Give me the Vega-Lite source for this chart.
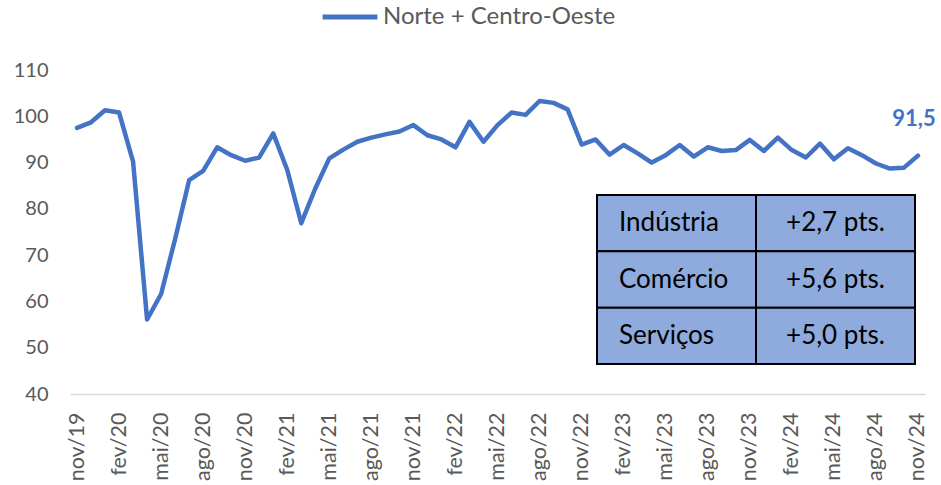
{
  "$schema": "https://vega.github.io/schema/vega-lite/v6.json",
  "width": 855,
  "height": 324,
  "autosize": {"type": "none"},
  "padding": {"left": 70, "top": 70, "right": 16, "bottom": 91},
  "background": "white",
  "config": {
    "view": {"stroke": null},
    "font": "Lato",
    "locale": {"number": {"decimal": ",", "thousands": ".", "grouping": [3], "currency": ["R$", ""]}}
  },
  "resolve": {"scale": {"x": "independent", "y": "independent"}},
  "layer": [
    {
      "data": {"values": [
        {"mes": "nov/19", "valor": 97.5}, {"mes": "dez/19", "valor": 98.7}, {"mes": "jan/20", "valor": 101.3},
        {"mes": "fev/20", "valor": 100.8}, {"mes": "mar/20", "valor": 90.2}, {"mes": "abr/20", "valor": 56.1},
        {"mes": "mai/20", "valor": 61.6}, {"mes": "jun/20", "valor": 73.5}, {"mes": "jul/20", "valor": 86.2},
        {"mes": "ago/20", "valor": 88.2}, {"mes": "set/20", "valor": 93.3}, {"mes": "out/20", "valor": 91.6},
        {"mes": "nov/20", "valor": 90.4}, {"mes": "dez/20", "valor": 91.1}, {"mes": "jan/21", "valor": 96.3},
        {"mes": "fev/21", "valor": 88.4}, {"mes": "mar/21", "valor": 76.9}, {"mes": "abr/21", "valor": 84.4},
        {"mes": "mai/21", "valor": 90.9}, {"mes": "jun/21", "valor": 92.8}, {"mes": "jul/21", "valor": 94.5},
        {"mes": "ago/21", "valor": 95.4}, {"mes": "set/21", "valor": 96.1}, {"mes": "out/21", "valor": 96.7},
        {"mes": "nov/21", "valor": 98.1}, {"mes": "dez/21", "valor": 95.9}, {"mes": "jan/22", "valor": 95.0},
        {"mes": "fev/22", "valor": 93.3}, {"mes": "mar/22", "valor": 98.8}, {"mes": "abr/22", "valor": 94.5},
        {"mes": "mai/22", "valor": 98.1}, {"mes": "jun/22", "valor": 100.8}, {"mes": "jul/22", "valor": 100.3},
        {"mes": "ago/22", "valor": 103.3}, {"mes": "set/22", "valor": 102.9}, {"mes": "out/22", "valor": 101.5},
        {"mes": "nov/22", "valor": 93.9}, {"mes": "dez/22", "valor": 95.0}, {"mes": "jan/23", "valor": 91.7},
        {"mes": "fev/23", "valor": 93.8}, {"mes": "mar/23", "valor": 92.0}, {"mes": "abr/23", "valor": 90.0},
        {"mes": "mai/23", "valor": 91.6}, {"mes": "jun/23", "valor": 93.8}, {"mes": "jul/23", "valor": 91.3},
        {"mes": "ago/23", "valor": 93.3}, {"mes": "set/23", "valor": 92.5}, {"mes": "out/23", "valor": 92.7},
        {"mes": "nov/23", "valor": 94.9}, {"mes": "dez/23", "valor": 92.5}, {"mes": "jan/24", "valor": 95.4},
        {"mes": "fev/24", "valor": 92.7}, {"mes": "mar/24", "valor": 91.1}, {"mes": "abr/24", "valor": 94.1},
        {"mes": "mai/24", "valor": 90.7}, {"mes": "jun/24", "valor": 93.1}, {"mes": "jul/24", "valor": 91.6},
        {"mes": "ago/24", "valor": 89.8}, {"mes": "set/24", "valor": 88.7}, {"mes": "out/24", "valor": 88.9},
        {"mes": "nov/24", "valor": 91.5}
      ]},
      "encoding": {
        "x": {
          "field": "mes", "type": "ordinal", "sort": null,
          "scale": {"type": "point", "padding": 0.5},
          "axis": {
            "title": null,
            "values": ["nov/19","fev/20","mai/20","ago/20","nov/20","fev/21","mai/21","ago/21","nov/21","fev/22","mai/22","ago/22","nov/22","fev/23","mai/23","ago/23","nov/23","fev/24","mai/24","ago/24","nov/24"],
            "labelAngle": -90, "labelAlign": "right", "labelBaseline": "middle",
            "labelPadding": 18, "labelFontSize": 21.5, "labelColor": "#595959", "labelFont": "Lato",
            "ticks": false, "domainColor": "#D9D9D9", "domainWidth": 1.5, "grid": false
          }
        },
        "y": {
          "field": "valor", "type": "quantitative",
          "scale": {"domain": [40, 110], "nice": false, "zero": false},
          "axis": {
            "title": null, "values": [40, 50, 60, 70, 80, 90, 100, 110],
            "domain": false, "ticks": false, "grid": false,
            "labelPadding": 22, "labelFontSize": 20, "labelColor": "#595959", "labelFont": "Lato"
          }
        }
      },
      "layer": [
        {
          "mark": {"type": "line", "strokeWidth": 4.5, "strokeJoin": "round", "strokeCap": "round"},
          "encoding": {
            "color": {
              "datum": "Norte + Centro-Oeste",
              "scale": {"range": ["#4472C4"]},
              "legend": {
                "title": null, "orient": "none", "legendX": 250, "legendY": -83,
                "symbolType": "stroke", "symbolSize": 3000, "symbolStrokeWidth": 5,
                "labelFontSize": 24, "labelColor": "#595959", "labelFont": "Lato", "labelOffset": 3, "labelLimit": 500
              }
            }
          }
        },
        {
          "transform": [{"filter": "datum.mes == 'nov/24'"}],
          "mark": {"type": "text", "dy": -37, "dx": -4, "fontSize": 22, "fontWeight": "bold", "color": "#4472C4", "font": "Lato"},
          "encoding": {"text": {"field": "valor", "type": "quantitative", "format": ".1f"}}
        }
      ]
    },
    {
      "data": {"values": [
        {"setor": "Indústria", "variacao": "+2,7 pts."},
        {"setor": "Comércio", "variacao": "+5,6 pts."},
        {"setor": "Serviços", "variacao": "+5,0 pts."}
      ]},
      "transform": [{"fold": ["setor", "variacao"], "as": ["coluna", "texto"]}],
      "encoding": {
        "x": {"field": "coluna", "type": "nominal", "axis": null,
              "scale": {"type": "band", "domain": ["setor", "variacao"], "range": [527, 845], "paddingInner": 0, "paddingOuter": 0}},
        "y": {"field": "setor", "type": "nominal", "axis": null,
              "scale": {"type": "band", "domain": ["Indústria", "Comércio", "Serviços"], "range": [125, 294], "paddingInner": 0, "paddingOuter": 0}}
      },
      "layer": [
        {"mark": {"type": "rect", "fill": "#8FAADC", "stroke": "#000000", "strokeWidth": 2}},
        {
          "transform": [{"filter": "datum.coluna == 'setor'"}],
          "mark": {"type": "text", "align": "left", "baseline": "middle", "dx": -57.5, "fontSize": 26, "color": "#000000", "font": "Lato"},
          "encoding": {"text": {"field": "texto"}}
        },
        {
          "transform": [{"filter": "datum.coluna == 'variacao'"}],
          "mark": {"type": "text", "align": "center", "baseline": "middle", "fontSize": 26, "color": "#000000", "font": "Lato"},
          "encoding": {"text": {"field": "texto"}}
        }
      ]
    }
  ]
}
